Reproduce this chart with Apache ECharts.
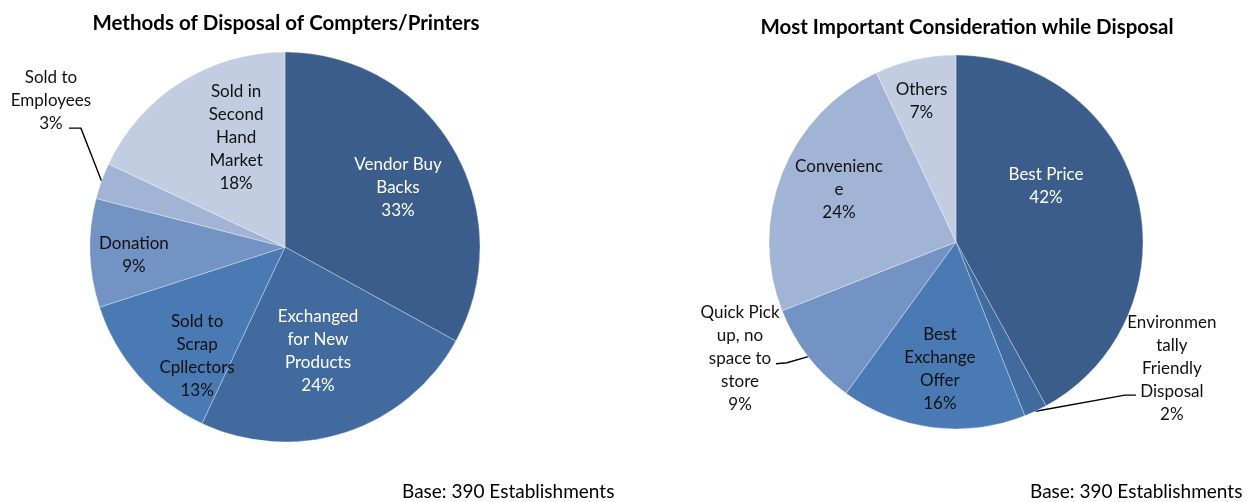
<!DOCTYPE html>
<html>
<head>
<meta charset="utf-8">
<script src="https://cdn.jsdelivr.net/npm/echarts@6/dist/echarts.min.js"></script>
<style>
  html, body { margin: 0; padding: 0; background: #fff; }
  #chart { width: 1257px; height: 502px; }
</style>
</head>
<body>
<div id="chart"></div>
<script>
// Methods of disposal (left pie), shares in percent
const disposalMethods = ['Vendor Buy\nBacks', 'Exchanged\nfor New\nProducts', 'Sold to\nScrap\nCpllectors', 'Donation', 'Sold to\nEmployees', 'Sold in\nSecond\nHand\nMarket'];
const disposalShares = [33, 24, 13, 9, 3, 18];

// Most important consideration (right pie), shares in percent
const considerations = ['Best Price', 'Environmen\ntally\nFriendly\nDisposal', 'Best\nExchange\nOffer', 'Quick Pick\nup, no\nspace to\nstore', 'Convenienc\ne', 'Others'];
const considerationShares = [42, 2, 16, 9, 24, 7];

const titles = ['Methods of Disposal of Compters/Printers', 'Most Important Consideration while Disposal'];
const baseNote = 'Base: 390 Establishments';

// ---- styling / layout ----
const shades = ['#3A5D8B', '#416A9F', '#4A7AB4', '#7393C4', '#A2B4D5', '#C3CDE2'];
const FONT = 'Lato, "Open Sans", sans-serif';

const pies = [
  {
    cx: 285, cy: 247, r: 195,
    textColors: ['#fff', '#fff', '#111', '#111', '#111', '#111'],
    // [radius fraction, angle shift in degrees] for each label
    spots: [[0.654, 3.0], [0.56, 0.4], [0.718, -9.7], [0.776, -1.4], [1.417, 12.3], [0.617, 8.4]],
    // leader line: [end offset, elbow offset] relative to label centre
    leaders: { 4: [[18, 28], [30, 28]] }
  },
  {
    cx: 956, cy: 242, r: 187,
    textColors: ['#fff', '#111', '#111', '#111', '#111', '#111'],
    spots: [[0.568, -17.7], [1.337, -34.5], [0.687, 0], [1.313, 9.4], [0.685, 2.4], [0.774, -1.2]],
    leaders: { 1: [[-36, 27], [-47, 27]], 3: [[36, 5], [47, 4]] }
  }
];

function midAngles(values) {
  const total = values.reduce((a, b) => a + b, 0);
  let acc = 0;
  return values.map(v => {
    const m = (acc + v / 2) / total * 360;
    acc += v;
    return m;
  });
}

function polar(p, angleDeg, dist) {
  const a = angleDeg * Math.PI / 180;
  return [p.cx + dist * Math.sin(a), p.cy - dist * Math.cos(a)];
}

function makeSeries(idx, names, values) {
  const p = pies[idx];
  const mids = midAngles(values);
  return {
    type: 'pie',
    center: [p.cx, p.cy],
    radius: p.r,
    startAngle: 90,
    clockwise: true,
    avoidLabelOverlap: false,
    animation: false,
    silent: true,
    itemStyle: { borderColor: 'rgba(255,255,255,0.45)', borderWidth: 0.7 },
    label: {
      show: true,
      position: 'outside',
      fontFamily: FONT,
      fontSize: 17,
      lineHeight: 23,
      align: 'center',
      formatter: prm => prm.name + '\n' + prm.value + '%'
    },
    labelLine: { show: false },
    data: names.map((n, i) => ({
      name: n,
      value: values[i],
      itemStyle: { color: shades[i] },
      label: { color: p.textColors[i] },
      labelLine: p.leaders[i] ? { show: true, lineStyle: { color: '#000', width: 1.4 } } : { show: false }
    })),
    labelLayout: function (prm) {
      const i = prm.dataIndex;
      const s = p.spots[i];
      const c = polar(p, mids[i] + s[1], s[0] * p.r);
      const out = { x: c[0], y: c[1], align: 'center', verticalAlign: 'middle' };
      const ld = p.leaders[i];
      if (ld) {
        const start = polar(p, mids[i], p.r);
        out.labelLinePoints = [
          start,
          [c[0] + ld[1][0], c[1] + ld[1][1]],
          [c[0] + ld[0][0], c[1] + ld[0][1]]
        ];
      }
      return out;
    }
  };
}

const chart = echarts.init(document.getElementById('chart'), null, { renderer: 'canvas' });
chart.setOption({
  backgroundColor: '#fff',
  series: [
    makeSeries(0, disposalMethods, disposalShares),
    makeSeries(1, considerations, considerationShares)
  ],
  graphic: [
    { type: 'text', x: 286, y: 23, style: { text: titles[0], font: 'bold 20.5px ' + FONT, fill: '#000', align: 'center', verticalAlign: 'middle' } },
    { type: 'text', x: 967, y: 27, style: { text: titles[1], font: 'bold 20.5px ' + FONT, fill: '#000', align: 'center', verticalAlign: 'middle' } },
    { type: 'text', x: 402, y: 492, style: { text: baseNote, font: '19px ' + FONT, fill: '#000', align: 'left', verticalAlign: 'middle' } },
    { type: 'text', x: 1030, y: 492, style: { text: baseNote, font: '19px ' + FONT, fill: '#000', align: 'left', verticalAlign: 'middle' } }
  ]
});
</script>
</body>
</html>
